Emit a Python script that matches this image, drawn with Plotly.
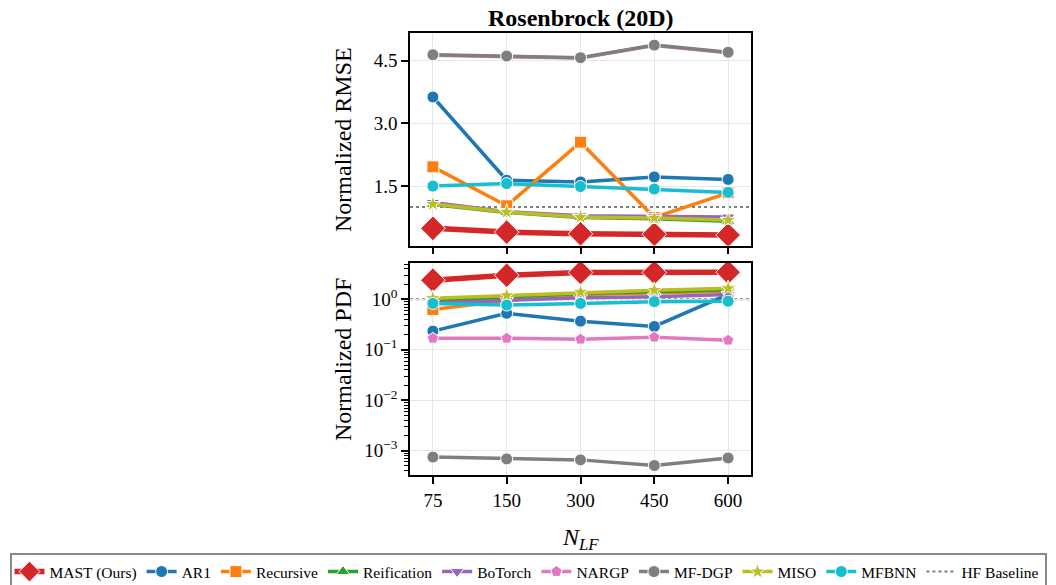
import plotly.graph_objects as go
from plotly.subplots import make_subplots

categories = ["75", "150", "300", "450", "600"]

methods = ["MAST (Ours)", "AR1", "Recursive", "Reification", "BoTorch",
           "NARGP", "MF-DGP", "MISO", "MFBNN"]
colors = ["#d62728", "#1f77b4", "#ff7f0e", "#2ca02c", "#9467bd",
          "#e377c2", "#7f7f7f", "#bcbd22", "#17becf"]
symbols = ["diamond", "circle", "square", "triangle-up", "triangle-down",
           "pentagon", "circle", "star", "circle"]

rmse = {
    "MAST (Ours)": [0.49, 0.40, 0.36, 0.35, 0.33],
    "AR1":         [3.63, 1.64, 1.60, 1.72, 1.66],
    "Recursive":   [1.96, 1.03, 2.55, 0.75, 1.34],
    "Reification": [1.06, 0.87, 0.75, 0.72, 0.66],
    "BoTorch":     [1.11, 0.89, 0.79, 0.77, 0.76],
    "NARGP":       [4.63, 4.60, 4.56, 4.86, 4.69],
    "MF-DGP":      [4.64, 4.61, 4.57, 4.87, 4.70],
    "MISO":        [1.07, 0.88, 0.76, 0.74, 0.69],
    "MFBNN":       [1.50, 1.56, 1.49, 1.43, 1.35],
}

pdf = {
    "MAST (Ours)": [2.4, 3.0, 3.4, 3.4, 3.45],
    "AR1":         [0.235, 0.53, 0.37, 0.29, 1.25],
    "Recursive":   [0.63, 0.95, 1.25, 1.35, 1.45],
    "Reification": [0.95, 1.1, 1.3, 1.42, 1.55],
    "BoTorch":     [0.85, 0.95, 1.08, 1.12, 1.25],
    "NARGP":       [0.169, 0.169, 0.162, 0.178, 0.155],
    "MF-DGP":      [7.5e-4, 6.9e-4, 6.6e-4, 5.1e-4, 7.2e-4],
    "MISO":        [1.05, 1.2, 1.38, 1.52, 1.65],
    "MFBNN":       [0.83, 0.77, 0.83, 0.90, 0.92],
}

hf_baseline = 1.0
rmse_ticks = [1.5, 3.0, 4.5]
pdf_tick_exps = [0, -1, -2, -3]

FONT = "Liberation Serif"
W, H = 1056, 585

fig = make_subplots(rows=2, cols=1, shared_xaxes=True, vertical_spacing=0.03)

for m, c, s in zip(methods, colors, symbols):
    is_mast = m == "MAST (Ours)"
    lw = 5.5 if is_mast else 3.5
    ms = 19 if is_mast else 12
    fig.add_trace(go.Scatter(
        x=categories, y=rmse[m], mode="lines+markers", name=m,
        line=dict(color=c, width=lw),
        marker=dict(symbol=s, size=ms, color=c, line=dict(color="white", width=1)),
        legendgroup=m, showlegend=True), row=1, col=1)
    fig.add_trace(go.Scatter(
        x=categories, y=pdf[m], mode="lines+markers", name=m,
        line=dict(color=c, width=lw),
        marker=dict(symbol=s, size=ms, color=c, line=dict(color="white", width=1)),
        legendgroup=m, showlegend=False), row=2, col=1)

# HF baseline legend entry
fig.add_trace(go.Scatter(x=[None], y=[None], mode="lines", name="HF Baseline",
                         line=dict(color="#7f7f7f", width=2, dash="dot")), row=1, col=1)

for xr, yr in [("x domain", "y"), ("x2 domain", "y2")]:
    fig.add_shape(type="line", xref=xr, yref=yr, x0=0, x1=1, y0=hf_baseline, y1=hf_baseline,
                  line=dict(color="#7f7f7f", width=2, dash="dot"), layer="below")

axis_common = dict(showline=True, linecolor="black", linewidth=1.5, mirror=True,
                   ticks="outside", ticklen=7, tickwidth=1.5, tickcolor="black",
                   showgrid=True, gridcolor="#e6e6e6", gridwidth=1,
                   tickfont=dict(family=FONT, size=19, color="black"), zeroline=False,
                   automargin=False)

xdom = [410 / W, 751 / W]
fig.update_xaxes(**axis_common, type="category", range=[-0.31, 4.31], domain=xdom)
fig.update_xaxes(showticklabels=False, row=1, col=1)

fig.update_yaxes(**axis_common, row=1, col=1)
fig.update_yaxes(range=[0.08, 5.16], tickvals=rmse_ticks, ticktext=[f"{v:.1f}" for v in rmse_ticks],
                 domain=[1 - 245.5 / H, 1 - 33 / H], row=1, col=1)

minor_vals = [k * 10 ** e for e in range(-4, 1) for k in range(2, 10)]
fig.update_yaxes(**axis_common, row=2, col=1)
fig.update_yaxes(type="log", range=[-3.48, 0.72],
                 tickvals=[10 ** e for e in pdf_tick_exps],
                 ticktext=[f"10<sup>{str(e).replace('-', '−')}</sup>" for e in pdf_tick_exps],
                 minor=dict(tickvals=minor_vals, ticks="outside", ticklen=4, tickwidth=1,
                            tickcolor="black", showgrid=False),
                 domain=[1 - 475 / H, 1 - 263 / H], row=2, col=1)

ann_common = dict(xref="paper", yref="paper", showarrow=False,
                  xanchor="center", yanchor="middle")
fig.add_annotation(text="<b>Rosenbrock (20D)</b>", x=sum(xdom) / 2, y=1 - 18 / H,
                   font=dict(family=FONT, size=24, color="black"), **ann_common)
fig.add_annotation(text="Normalized RMSE", x=343 / W, y=1 - 140 / H, textangle=-90,
                   font=dict(family=FONT, size=24, color="black"), **ann_common)
fig.add_annotation(text="Normalized PDF", x=343 / W, y=1 - 360 / H, textangle=-90,
                   font=dict(family=FONT, size=24, color="black"), **ann_common)
fig.add_annotation(text="<i>N</i><sub><i>LF</i></sub>", x=sum(xdom) / 2, y=1 - 539 / H,
                   font=dict(family=FONT, size=24, color="black"), **ann_common)

fig.update_layout(
    width=W, height=H,
    margin=dict(l=0, r=0, t=0, b=0, autoexpand=False),
    paper_bgcolor="white", plot_bgcolor="white",
    font=dict(family=FONT, color="black"),
    legend=dict(orientation="h", x=0.5, xanchor="center", y=1 - 572 / H, yanchor="middle",
                bordercolor="#888888", borderwidth=2, bgcolor="white",
                font=dict(family=FONT, size=15.5, color="black"),
                itemwidth=30, tracegroupgap=0),
)

fig.write_html("out.html", config={"displayModeBar": False},
               post_script="document.body.style.margin='0';")
